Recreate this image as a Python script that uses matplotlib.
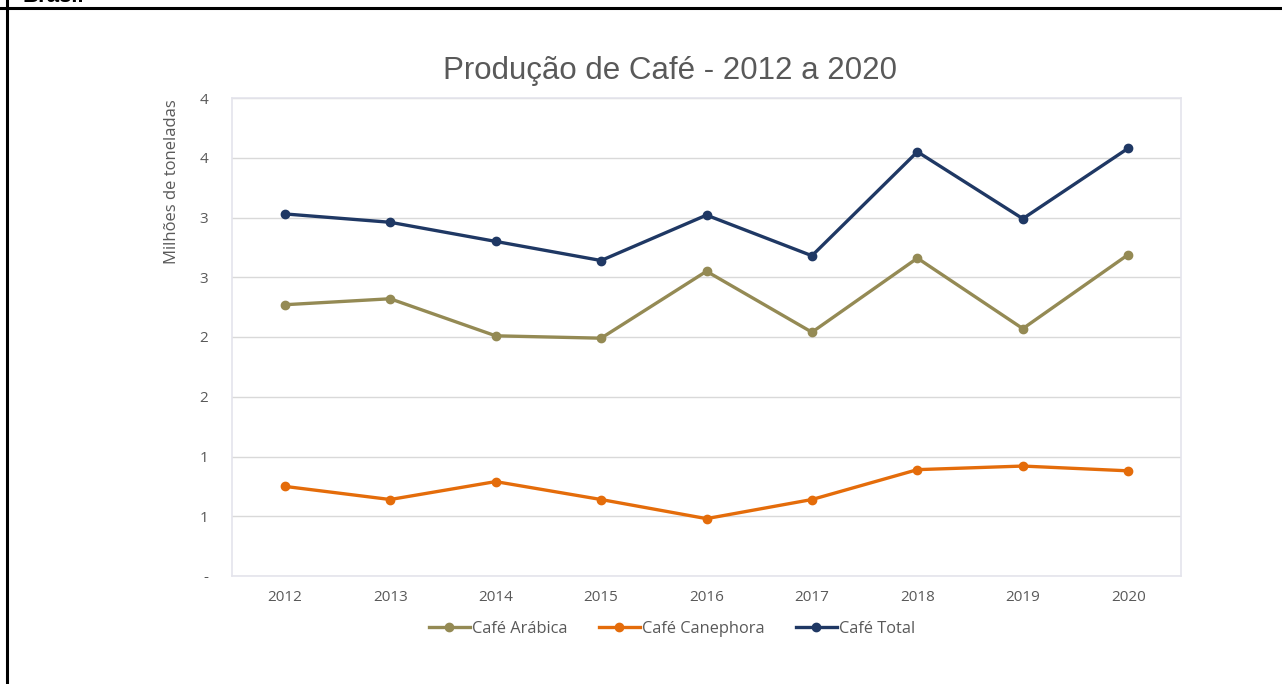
import matplotlib
matplotlib.use("Agg")
import matplotlib.pyplot as plt
from matplotlib.lines import Line2D

years = ["2012", "2013", "2014", "2015", "2016", "2017", "2018", "2019", "2020"]
arabica = [2.27, 2.32, 2.01, 1.99, 2.55, 2.04, 2.66, 2.07, 2.69]
canephora = [0.75, 0.64, 0.79, 0.64, 0.48, 0.64, 0.89, 0.92, 0.88]
total = [3.03, 2.96, 2.80, 2.64, 3.02, 2.68, 3.55, 2.99, 3.58]
y_ticks = [0, 0.5, 1, 1.5, 2, 2.5, 3, 3.5, 4]
y_tick_labels = ["-", "1", "1", "2", "2", "3", "3", "4", "4"]

series = [
    ("Café Arábica", arabica, "#948A54"),
    ("Café Canephora", canephora, "#E46C0A"),
    ("Café Total", total, "#1F3864"),
]

W, H = 1282, 684
fig = plt.figure(figsize=(W / 100, H / 100), dpi=100)
fig.patch.set_facecolor("white")

ax = fig.add_axes([232 / W, 1 - 576 / H, 949 / W, 478 / H])
x = list(range(len(years)))
for name, vals, col in series:
    ax.plot(x, vals, color=col, lw=2.4, marker="o", ms=6, label=name, zorder=3)

ax.set_xlim(-0.5, len(years) - 0.5)
ax.set_ylim(0, 4)
ax.set_xticks(x)
ax.set_xticklabels(years, fontsize=11, color="#595959", family="Open Sans")
ax.set_yticks(y_ticks)
ax.set_yticklabels(y_tick_labels, fontsize=11, color="#595959", family="Open Sans")
ax.tick_params(axis="x", length=0, pad=10)
ax.tick_params(axis="y", length=0, pad=17)
ax.grid(axis="y", color="#D9D9D9", lw=1)
ax.set_axisbelow(True)
for s in ax.spines.values():
    s.set_color("#E4E4EC")
    s.set_linewidth(1.2)

fig.text(172 / W, 1 - 182 / H, "Milhões de toneladas", rotation=90, ha="center", va="center",
         fontsize=12, color="#595959", family="Open Sans")

fig.text(670 / W, 1 - 67 / H, "Produção de Café - 2012 a 2020", ha="center", va="center_baseline",
         fontsize=22.5, color="#595959", family="Liberation Sans")

handles = [Line2D([0], [0], color=c, lw=2.4, marker="o", ms=6) for _, _, c in series]
fig.legend(handles, [n for n, _, _ in series], loc="center", bbox_to_anchor=(672 / W, 1 - 629 / H),
           ncol=3, frameon=False, handlelength=2.5, handletextpad=0.15, columnspacing=1.9,
           prop={"family": "Open Sans", "size": 11.8}, labelcolor="#595959")

# page border lines and cropped heading
fig.add_artist(Line2D([0, 1], [1 - 8 / H, 1 - 8 / H], color="black", lw=2.2, transform=fig.transFigure))
fig.add_artist(Line2D([7 / W, 7 / W], [0, 1], color="black", lw=2.2, transform=fig.transFigure))
fig.text(22 / W, 1 - 2 / H, "Brasil", ha="left", va="baseline", fontsize=16, fontweight="bold",
         color="black", family="Liberation Sans")

fig.savefig("out.png", dpi=100)
